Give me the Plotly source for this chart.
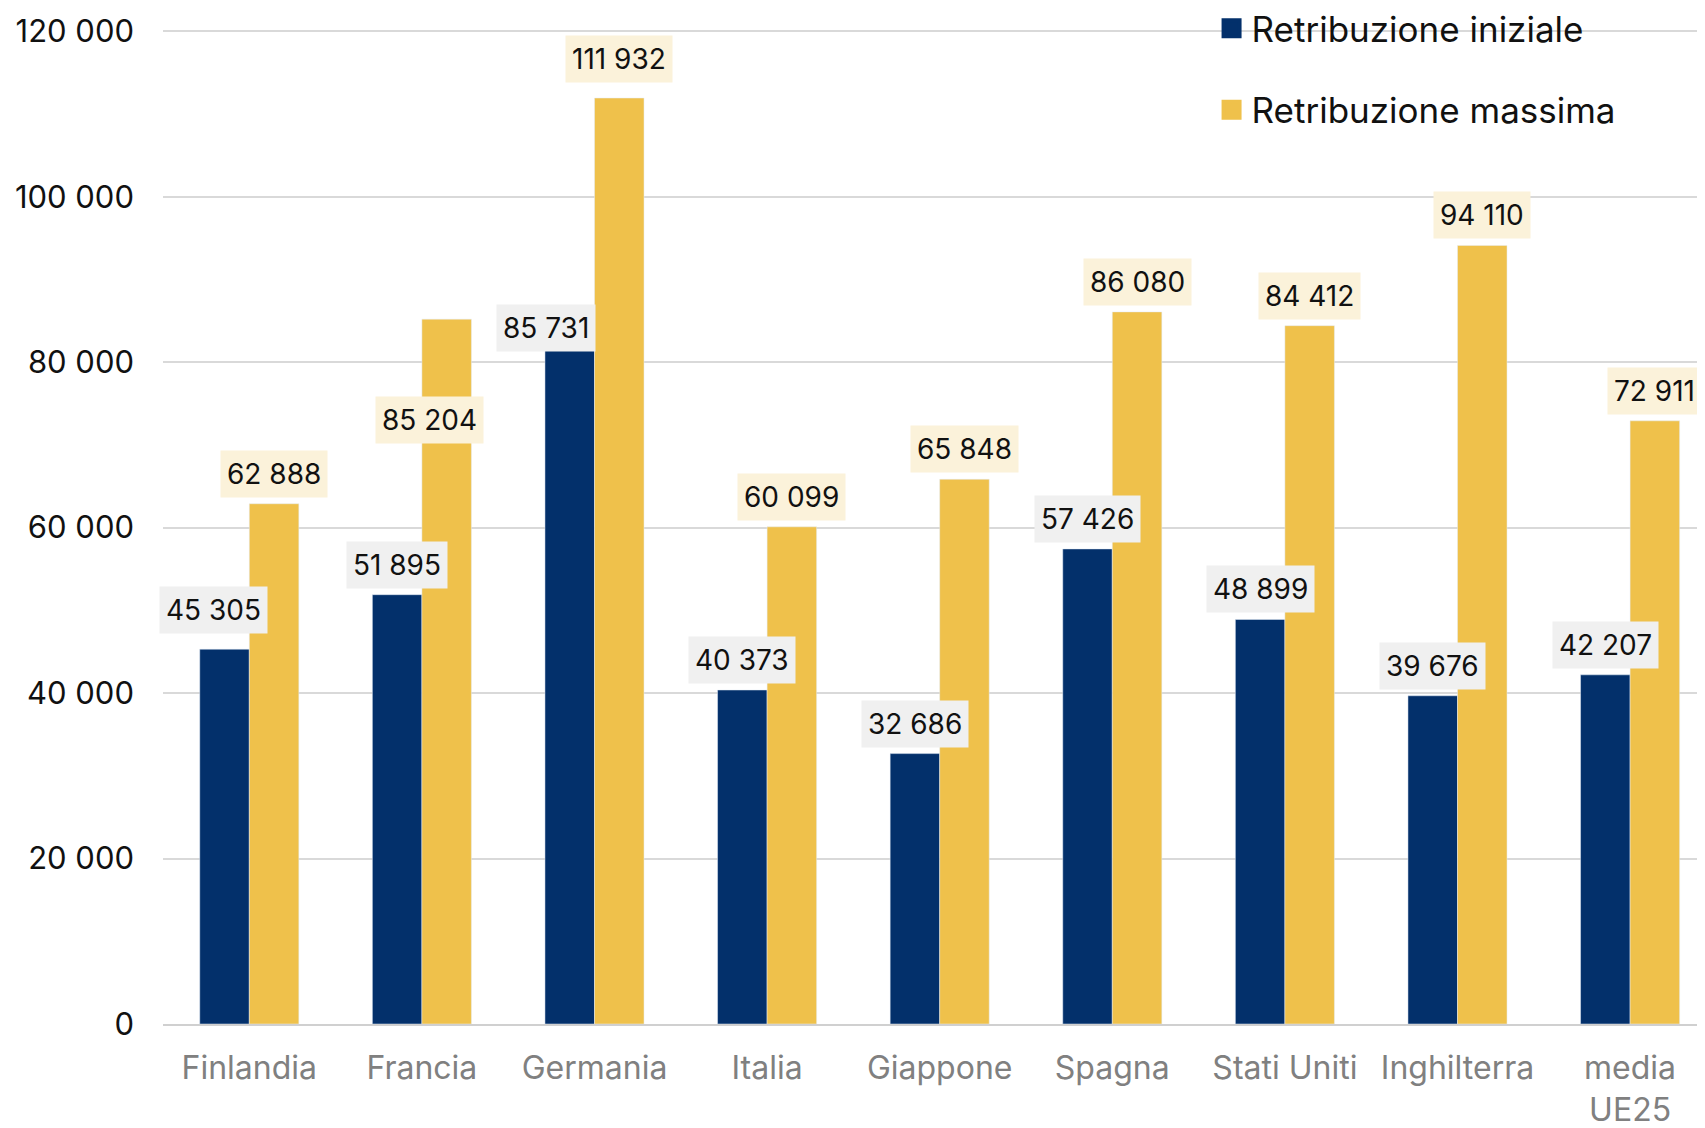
import plotly.graph_objects as go

# data
paesi = ["Finlandia", "Francia", "Germania", "Italia", "Giappone",
         "Spagna", "Stati Uniti", "Inghilterra", "media<br>UE25"]
retribuzione_iniziale = [45305, 51895, 85731, 40373, 32686, 57426, 48899, 39676, 42207]
retribuzione_massima = [62888, 85204, 111932, 60099, 65848, 86080, 84412, 94110, 72911]

BLU = "#03306B"
GIALLO = "#EFC14B"
FONT = "Inter"

bargap = 0.426
off = (1 - bargap) / 4  # half bar width, in category units


def fmt(v):
    return f"{v:,}".replace(",", " ")


fig = go.Figure()

fig.add_trace(go.Bar(x=paesi, y=retribuzione_iniziale, marker_color=BLU,
                     name="Retribuzione iniziale", showlegend=False))
fig.add_trace(go.Bar(x=paesi, y=retribuzione_massima, marker_color=GIALLO,
                     name="Retribuzione massima", showlegend=False))

# legend entries (bigger square symbols)
fig.add_trace(go.Scatter(x=[None], y=[None], mode="markers", name="Retribuzione iniziale",
                         marker=dict(symbol="square", size=16, color=BLU,
                                     line=dict(color=BLU, width=4)), legendgroup="a"))
fig.add_trace(go.Scatter(x=[None], y=[None], mode="markers", name="Retribuzione massima",
                         marker=dict(symbol="square", size=16, color=GIALLO,
                                     line=dict(color=GIALLO, width=4)), legendgroup="b"))

# data labels: some were nudged by hand in the original
nudge_ini = {0: (-11, 39), 2: (-24, -13)}
nudge_max = {1: (-17, -101), 2: (0, 39)}

ann = []
for i, v in enumerate(retribuzione_iniziale):
    dx, dy = nudge_ini.get(i, (0, 30))
    ann.append(dict(x=i - off, y=v, text=fmt(v), showarrow=False, xshift=dx, yshift=dy,
                    bgcolor="#F0F0F0", borderpad=6, font=dict(size=28, color="#111111")))
for i, v in enumerate(retribuzione_massima):
    dx, dy = nudge_max.get(i, (0, 30))
    ann.append(dict(x=i + off, y=v, text=fmt(v), showarrow=False, xshift=dx, yshift=dy,
                    bgcolor="#FBF2DA", borderpad=6, font=dict(size=28, color="#111111")))

# page body has an 8px margin, so the figure is 8px smaller and margins shifted
fig.update_layout(
    width=1697, height=1120,
    margin=dict(l=155, r=0, t=15, b=104, autoexpand=False),
    plot_bgcolor="white", paper_bgcolor="white",
    font=dict(family=FONT, color="#111111"),
    separators=", ",
    barmode="group", bargap=bargap, bargroupgap=0,
    annotations=ann,
    legend=dict(x=0.68, y=1.024, xanchor="left", yanchor="top",
                font=dict(size=35, color="#111111"), tracegroupgap=33,
                bgcolor="rgba(0,0,0,0)"),
    shapes=[dict(type="rect", xref="paper", yref="y", x0=0.6135, x1=1.0,
                 y0=118500, y1=121000, fillcolor="white", line_width=0, layer="below")],
)

fig.update_xaxes(
    range=[-0.5, 8.434], showgrid=False, showline=True, linecolor="#D0D0D0", linewidth=2,
    tickfont=dict(size=32, color="#808080"), ticklabelstandoff=15, automargin=False,
)
fig.update_yaxes(
    range=[0, 121000], tickvals=[0, 20000, 40000, 60000, 80000, 100000, 120000],
    tickformat=",d", showgrid=True, gridcolor="#D9D9D9",
    gridwidth=2, zeroline=False, tickfont=dict(size=31, color="#111111"),
    ticklabelstandoff=28, automargin=False,
)

fig.write_html("out.html")
